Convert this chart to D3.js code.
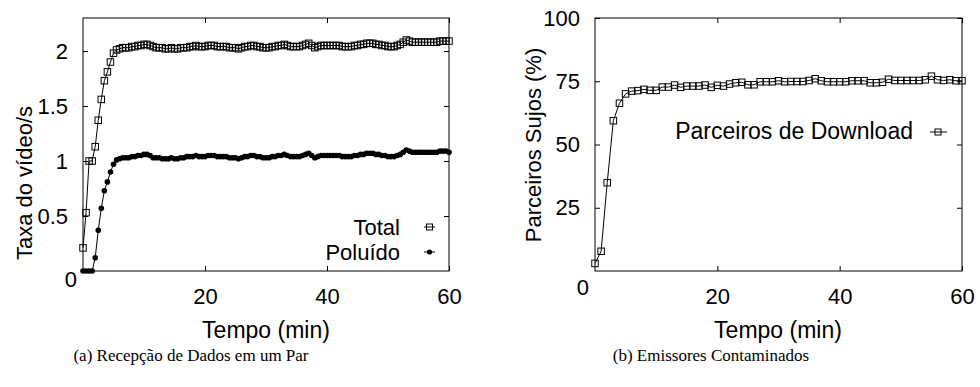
<!DOCTYPE html>
<html>
<head>
<meta charset="utf-8">
<script src="https://cdn.jsdelivr.net/npm/d3@7"></script>
<style>
  body { margin: 0; background: #fff; }
  svg { font-family: "Liberation Sans", Arial, sans-serif; }
  .caption { font-family: "Liberation Serif", "Times New Roman", serif; font-size: 17px; }
</style>
</head>
<body>
<svg id="chart" width="980" height="387"></svg>
<script>
// (a) Recepcao de dados em um par -- amostras a cada 0.5 min
const tempoA = d3.range(0, 60.5, 0.5);
const total = [
  0.21, 0.53, 1.00, 1.00, 1.13, 1.37, 1.56, 1.73, 1.81, 1.90,
  1.98, 2.01, 2.02, 2.03, 2.03, 2.03, 2.04, 2.04, 2.05, 2.05,
  2.06, 2.06, 2.05, 2.04, 2.03, 2.03, 2.03, 2.02, 2.02, 2.03,
  2.02, 2.02, 2.03, 2.03, 2.03, 2.04, 2.04, 2.05, 2.04, 2.04,
  2.04, 2.05, 2.05, 2.05, 2.04, 2.04, 2.04, 2.04, 2.03, 2.03,
  2.03, 2.02, 2.03, 2.04, 2.04, 2.05, 2.05, 2.04, 2.04, 2.03,
  2.03, 2.03, 2.04, 2.04, 2.05, 2.05, 2.06, 2.05, 2.04, 2.04,
  2.04, 2.04, 2.05, 2.06, 2.07, 2.05, 2.03, 2.04, 2.05, 2.05,
  2.05, 2.05, 2.05, 2.05, 2.05, 2.04, 2.04, 2.04, 2.04, 2.05,
  2.05, 2.06, 2.06, 2.07, 2.07, 2.07, 2.06, 2.06, 2.05, 2.05,
  2.04, 2.04, 2.04, 2.05, 2.06, 2.08, 2.10, 2.09, 2.08, 2.08,
  2.08, 2.08, 2.08, 2.08, 2.08, 2.08, 2.08, 2.09, 2.09, 2.09,
  2.09
];
const poluido = [
  0.00, 0.00, 0.00, 0.00, 0.12, 0.37, 0.57, 0.73, 0.81, 0.90,
  0.97, 1.01, 1.02, 1.03, 1.03, 1.03, 1.04, 1.04, 1.05, 1.05,
  1.06, 1.06, 1.05, 1.03, 1.03, 1.03, 1.02, 1.02, 1.02, 1.03,
  1.02, 1.02, 1.03, 1.03, 1.04, 1.04, 1.04, 1.05, 1.04, 1.04,
  1.04, 1.05, 1.05, 1.05, 1.04, 1.04, 1.04, 1.04, 1.03, 1.03,
  1.03, 1.02, 1.03, 1.04, 1.04, 1.05, 1.05, 1.04, 1.04, 1.03,
  1.03, 1.03, 1.04, 1.04, 1.05, 1.05, 1.06, 1.05, 1.04, 1.04,
  1.04, 1.04, 1.05, 1.06, 1.07, 1.05, 1.03, 1.04, 1.05, 1.05,
  1.05, 1.05, 1.05, 1.05, 1.05, 1.04, 1.04, 1.04, 1.04, 1.05,
  1.05, 1.06, 1.06, 1.07, 1.07, 1.07, 1.06, 1.06, 1.05, 1.05,
  1.04, 1.04, 1.04, 1.05, 1.06, 1.08, 1.10, 1.09, 1.08, 1.08,
  1.08, 1.08, 1.08, 1.08, 1.08, 1.08, 1.08, 1.09, 1.09, 1.09,
  1.08
];

// (b) Emissores contaminados -- amostras a cada 1 min
const tempoB = d3.range(0, 61, 1);
const parceiros = [
  3.0, 7.8, 34.9, 59.4, 66.3, 70.0, 71.1, 71.3, 71.8, 71.4,
  71.4, 72.7, 72.7, 73.5, 72.6, 73.1, 73.1, 73.1, 73.5, 72.6,
  73.4, 73.1, 73.9, 74.4, 74.6, 73.6, 73.6, 74.8, 74.8, 74.8,
  75.2, 74.8, 74.9, 74.9, 74.9, 75.3, 76.0, 75.2, 74.8, 74.8,
  74.8, 74.8, 75.2, 75.2, 75.2, 74.4, 74.4, 74.6, 75.8, 75.3,
  75.3, 75.3, 75.3, 75.3, 75.6, 77.0, 75.6, 75.3, 75.6, 75.2,
  75.2
];

const xTicks = [20, 40, 60];
const yTicksA = [0.5, 1, 1.5, 2];
const yTicksB = [25, 50, 75, 100];

let svg = d3.select("#chart");
let fmt = d3.format("~g");

function panel(left, top, width, height, xDomain, yDomain, yTicks) {
  let g = svg.append("g").attr("transform", "translate(" + left + "," + top + ")");
  let x = d3.scaleLinear().domain(xDomain).range([0, width]);
  let y = d3.scaleLinear().domain(yDomain).range([height, 0]);

  // bottom / left with labels, top / right mirrored ticks
  g.append("g").attr("transform", "translate(0," + height + ")")
    .call(d3.axisBottom(x).tickValues(xTicks).tickFormat(fmt).tickSizeInner(-5).tickSizeOuter(0).tickPadding(17));
  g.append("g")
    .call(d3.axisLeft(y).tickValues(yTicks).tickFormat(fmt).tickSizeInner(-5).tickSizeOuter(0).tickPadding(15));
  g.append("g")
    .call(d3.axisTop(x).tickValues(xTicks).tickSizeInner(-5).tickSizeOuter(0).tickFormat(""));
  g.append("g").attr("transform", "translate(" + width + ",0)")
    .call(d3.axisRight(y).tickValues(yTicks).tickSizeInner(-5).tickSizeOuter(0).tickFormat(""));

  g.selectAll(".domain").remove();
  g.selectAll(".tick line").attr("stroke", "#000");
  g.selectAll(".tick text")
    .attr("fill", "#000")
    .attr("font-size", 22)
    .attr("font-family", "Liberation Sans, Arial, sans-serif");

  g.append("rect")
    .attr("width", width).attr("height", height)
    .attr("fill", "none").attr("stroke", "#000").attr("stroke-width", 1);

  return {g: g, x: x, y: y};
}

function squares(g, pts, size) {
  g.selectAll(null).data(pts).enter().append("rect")
    .attr("x", d => d[0] - size / 2).attr("y", d => d[1] - size / 2)
    .attr("width", size).attr("height", size)
    .attr("fill", "none").attr("stroke", "#000").attr("stroke-width", 1);
}

// ---------- (a) ----------
let a = panel(83, 18, 366, 253, [0, 60], [0, 2.3], yTicksA);
let lineA = d3.line().x(d => a.x(d[0])).y(d => a.y(d[1]));
let totalPts = tempoA.map((t, i) => [t, total[i]]);
let polPts = tempoA.map((t, i) => [t, poluido[i]]);

a.g.append("path").datum(totalPts).attr("d", lineA)
  .attr("fill", "none").attr("stroke", "#000").attr("stroke-width", 1);
squares(a.g, totalPts.map(d => [a.x(d[0]), a.y(d[1])]), 6.5);

a.g.append("path").datum(polPts).attr("d", lineA)
  .attr("fill", "none").attr("stroke", "#000").attr("stroke-width", 1);
a.g.selectAll(null).data(polPts).enter().append("circle")
  .attr("cx", d => a.x(d[0])).attr("cy", d => a.y(d[1]))
  .attr("r", 2.8).attr("fill", "#000");

// origin label
a.g.append("text").attr("x", a.x(0) - 6).attr("y", a.y(0) + 16)
  .attr("text-anchor", "end").attr("font-size", 22).text("0");

// legend
let legA = [{name: "Total", y: 227, kind: "sq"}, {name: "Poluído", y: 252, kind: "dot"}];
legA.forEach(l => {
  svg.append("text").attr("x", 400).attr("y", l.y + 7.5)
    .attr("text-anchor", "end").attr("font-size", 22).text(l.name);
  svg.append("line").attr("x1", 424).attr("x2", 435).attr("y1", l.y).attr("y2", l.y)
    .attr("stroke", "#000");
  if (l.kind == "sq") {
    svg.append("rect").attr("x", 426.5).attr("y", l.y - 3).attr("width", 6).attr("height", 6)
      .attr("fill", "none").attr("stroke", "#000");
  } else {
    svg.append("circle").attr("cx", 429.5).attr("cy", l.y).attr("r", 2.6).attr("fill", "#000");
  }
});

svg.append("text").attr("x", 266).attr("y", 338).attr("text-anchor", "middle")
  .attr("font-size", 23).text("Tempo (min)");
svg.append("text").attr("transform", "translate(32,183) rotate(-90)")
  .attr("text-anchor", "middle").attr("font-size", 22).text("Taxa do vídeo/s");
svg.append("text").attr("class", "caption").attr("x", 191).attr("y", 361)
  .attr("text-anchor", "middle").text("(a)  Recepção de Dados em um Par");

// ---------- (b) ----------
let b = panel(595, 18, 367, 253, [0, 60], [0, 100], yTicksB);
let lineB = d3.line().x(d => b.x(d[0])).y(d => b.y(d[1]));
let parcPts = tempoB.map((t, i) => [t, parceiros[i]]);

b.g.append("path").datum(parcPts).attr("d", lineB)
  .attr("fill", "none").attr("stroke", "#000").attr("stroke-width", 1);
squares(b.g, parcPts.map(d => [b.x(d[0]), b.y(d[1])]), 6.5);

b.g.append("text").attr("x", b.x(0) - 6).attr("y", b.y(0) + 24)
  .attr("text-anchor", "end").attr("font-size", 22).text("0");

svg.append("text").attr("x", 913).attr("y", 139)
  .attr("text-anchor", "end").attr("font-size", 23).text("Parceiros de Download");
svg.append("line").attr("x1", 930).attr("x2", 947).attr("y1", 132).attr("y2", 132).attr("stroke", "#000");
svg.append("rect").attr("x", 935).attr("y", 129).attr("width", 6).attr("height", 6)
  .attr("fill", "none").attr("stroke", "#000");

svg.append("text").attr("x", 778).attr("y", 338).attr("text-anchor", "middle")
  .attr("font-size", 23).text("Tempo (min)");
svg.append("text").attr("transform", "translate(541,145) rotate(-90)")
  .attr("text-anchor", "middle").attr("font-size", 22).text("Parceiros Sujos (%)");
svg.append("text").attr("class", "caption").attr("x", 711).attr("y", 361)
  .attr("text-anchor", "middle").text("(b)  Emissores Contaminados");
</script>
</body>
</html>
